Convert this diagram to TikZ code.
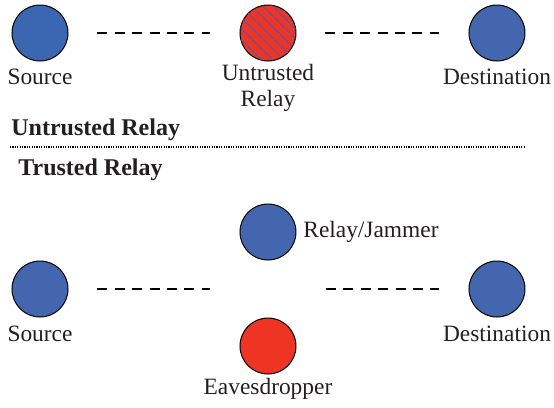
\documentclass[tikz,border=0pt]{standalone}
\usepackage{fontspec}
\setmainfont{Liberation Serif}
\usepackage{xcolor}
\usepackage{tikz}
\usetikzlibrary{patterns.meta}

\definecolor{nodeblue}{HTML}{4466AF}
\definecolor{srcblue}{HTML}{3A66B2}
\definecolor{evered}{HTML}{EE3524}
\definecolor{stripe}{HTML}{6A4F9E}
\definecolor{txt}{HTML}{231F20}

\tikzset{
  terminal/.style={circle, draw=black, line width=0.5pt, minimum size=28pt, inner sep=0pt},
  link/.style={line width=0.75pt, dash pattern=on 5pt off 3.7pt},
  lbl/.style={text=txt, font=\fontsize{11.7}{13.2}\selectfont, inner sep=0pt, align=center},
  heading/.style={text=txt, font=\fontsize{12}{13.5}\selectfont\bfseries, inner sep=0pt, anchor=west}
}

\begin{document}
\begin{tikzpicture}[x=0.5pt,y=-0.5pt]
\useasboundingbox (0,0) rectangle (554,408);

% Untrusted relay
\node[terminal, fill=srcblue] (src1) at (40,33) {};
\node[terminal, fill=evered, postaction={pattern={Lines[angle=-45,distance=4pt,line width=0.8pt]}, pattern color=stripe}] (urelay) at (268,33) {};
\node[terminal, fill=nodeblue] (dst1) at (497,33) {};

\node[lbl] (src1lbl) at (40,77) {Source};
\node[lbl] (urelaylbl) at (268,88) {Untrusted\\Relay};
\node[lbl] (dst1lbl) at (497,77) {Destination};

\draw[link, shorten <=14.5pt, shorten >=14.5pt] (src1) -- (urelay);
\draw[link, shorten <=14.5pt, shorten >=14.5pt] (urelay) -- (dst1);

% Headings
\node[heading] (uhead) at (11,130) {Untrusted Relay};
\draw[line width=0.6pt, dash pattern=on 0.6pt off 0.6pt] (10,147) -- (525,147);
\node[heading] (thead) at (18,170) {Trusted Relay};

% Trusted relay
\node[terminal, fill=nodeblue] (relay) at (268,232) {};
\node[terminal, fill=nodeblue] (src2) at (40,289) {};
\node[terminal, fill=nodeblue] (dst2) at (497,289) {};
\node[terminal, fill=evered] (eve) at (268,346) {};
\coordinate (mid) at (268,289);

\node[lbl, anchor=west] (relaylbl) at (303,232) {Relay/Jammer};
\node[lbl] (src2lbl) at (40,334) {Source};
\node[lbl] (dst2lbl) at (497,334) {Destination};
\node[lbl] (evelbl) at (268,389) {Eavesdropper};

\draw[link, shorten <=14.5pt, shorten >=29pt] (src2) -- (mid);
\draw[link, shorten <=29pt, shorten >=14.5pt] (mid) -- (dst2);

\end{tikzpicture}
\end{document}
